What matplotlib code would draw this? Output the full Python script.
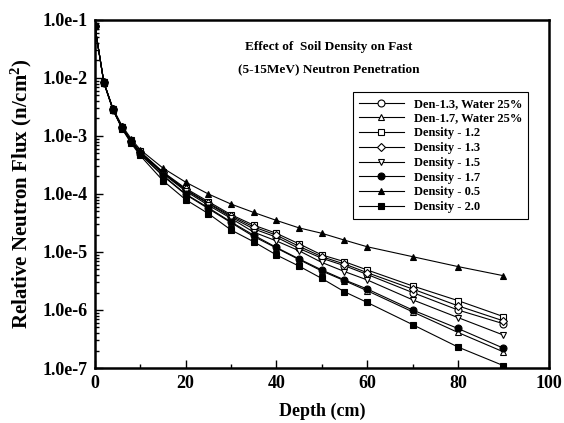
import numpy as np
import matplotlib
matplotlib.use("Agg")
import matplotlib.pyplot as plt
from matplotlib.ticker import LogLocator, FixedLocator, FuncFormatter, NullFormatter

plt.rcParams['font.family'] = 'Liberation Serif'
plt.rcParams['font.weight'] = 'bold'
plt.rcParams['mathtext.fontset'] = 'custom'
plt.rcParams['mathtext.bf'] = 'Liberation Serif:bold'
plt.rcParams['mathtext.rm'] = 'Liberation Serif:bold'
plt.rcParams['mathtext.default'] = 'bf'

depth = [0, 2, 4, 6, 8, 10, 15, 20, 25, 30, 35, 40, 45, 50, 55, 60, 70, 80, 90]

den13_w25 = [8.0e-2, 8.4e-3, 2.9e-3, 1.4e-3, 8.2e-4, 5.2e-4, 2.3e-4, 1.17e-4, 6.8e-5, 4.0e-5, 2.5e-5,
             1.8e-5, 1.15e-5, 7.8e-6, 5.8e-6, 4.1e-6, 2.0e-6, 1.0e-6, 5.8e-7]
den17_w25 = [8.0e-2, 8.3e-3, 2.85e-3, 1.36e-3, 7.8e-4, 4.85e-4, 2.05e-4, 9.8e-5, 5.6e-5, 3.2e-5, 1.85e-5,
             1.17e-5, 7.4e-6, 4.7e-6, 3.2e-6, 2.15e-6, 9.3e-7, 4.1e-7, 1.9e-7]
dens12 = [8.0e-2, 8.4e-3, 2.9e-3, 1.42e-3, 8.4e-4, 5.4e-4, 2.4e-4, 1.25e-4, 7.4e-5, 4.4e-5, 2.9e-5,
          2.1e-5, 1.38e-5, 8.9e-6, 6.8e-6, 4.9e-6, 2.6e-6, 1.45e-6, 7.7e-7]
dens13 = [8.0e-2, 8.4e-3, 2.9e-3, 1.4e-3, 8.3e-4, 5.3e-4, 2.35e-4, 1.2e-4, 7.0e-5, 4.2e-5, 2.7e-5,
          1.95e-5, 1.25e-5, 8.3e-6, 6.2e-6, 4.4e-6, 2.3e-6, 1.18e-6, 6.5e-7]
dens15 = [8.0e-2, 8.4e-3, 2.9e-3, 1.4e-3, 8.1e-4, 5.1e-4, 2.25e-4, 1.12e-4, 6.4e-5, 3.8e-5, 2.2e-5,
          1.55e-5, 1.05e-5, 6.6e-6, 4.6e-6, 3.3e-6, 1.5e-6, 7.4e-7, 3.7e-7]
dens17 = [8.0e-2, 8.3e-3, 2.85e-3, 1.37e-3, 7.9e-4, 4.9e-4, 2.1e-4, 1.0e-4, 5.8e-5, 3.3e-5, 1.95e-5,
          1.2e-5, 7.6e-6, 4.9e-6, 3.3e-6, 2.3e-6, 1.0e-6, 4.8e-7, 2.2e-7]
dens05 = [8.0e-2, 8.5e-3, 3.0e-3, 1.5e-3, 9.0e-4, 5.8e-4, 2.8e-4, 1.6e-4, 1.0e-4, 6.7e-5, 4.8e-5,
          3.5e-5, 2.6e-5, 2.1e-5, 1.6e-5, 1.23e-5, 8.3e-6, 5.6e-6, 3.9e-6]
dens20 = [8.0e-2, 8.3e-3, 2.8e-3, 1.33e-3, 7.5e-4, 4.6e-4, 1.7e-4, 8.0e-5, 4.6e-5, 2.4e-5, 1.5e-5,
          8.9e-6, 5.7e-6, 3.5e-6, 2.06e-6, 1.35e-6, 5.6e-7, 2.3e-7, 1.1e-7]

series = [
    ("Den-1.3, Water 25%", den13_w25, 'o', 'white'),
    ("Den-1.7, Water 25%", den17_w25, '^', 'white'),
    ("Density - 1.2", dens12, 's', 'white'),
    ("Density - 1.3", dens13, 'D', 'white'),
    ("Density - 1.5", dens15, 'v', 'white'),
    ("Density - 1.7", dens17, 'o', 'black'),
    ("Density - 0.5", dens05, '^', 'black'),
    ("Density - 2.0", dens20, 's', 'black'),
]

fig = plt.figure(figsize=(5.64, 4.23), dpi=100)
ax = fig.add_axes([0.168, 0.130, 0.805, 0.823])

for name, vals, m, fc in series:
    ms = 4 if m == 'D' else 5
    ax.plot(depth, vals, color='black', lw=0.8, marker=m, ms=ms,
            markerfacecolor=fc, markeredgecolor='black', markeredgewidth=0.8, label=name)

ax.set_yscale('log')
ax.set_xlim(0, 100)
ax.set_ylim(1e-7, 1e-1)
ax.xaxis.set_major_locator(FixedLocator([0, 20, 40, 60, 80, 100]))
ax.xaxis.set_minor_locator(FixedLocator([10, 30, 50, 70, 90]))
ax.yaxis.set_major_locator(LogLocator(base=10, numticks=10))
ax.yaxis.set_minor_locator(LogLocator(base=10, subs=np.arange(2, 10), numticks=20))
ax.yaxis.set_minor_formatter(NullFormatter())
ax.yaxis.set_major_formatter(FuncFormatter(lambda v, p: "1.0e%d" % round(np.log10(v))))

ax.tick_params(which='both', direction='in', top=False, right=False, width=1.0)
ax.tick_params(which='major', length=6, labelsize=13, pad=5)
ax.tick_params(which='minor', length=3)
for s in ax.spines.values():
    s.set_linewidth(1.8)

ax.set_xlabel('Depth (cm)', fontsize=13, fontweight='bold', labelpad=8)
ax.set_ylabel('Relative Neutron Flux (n/cm$^{2}$)', fontsize=15, fontweight='bold', labelpad=6)

# title lines inside the axes
ax.text(0.515, 0.922, 'Effect of  Soil Density on Fast', transform=ax.transAxes,
        ha='center', va='center', fontsize=9.5, fontweight='bold')
ax.text(0.515, 0.859, '(5-15MeV) Neutron Penetration', transform=ax.transAxes,
        ha='center', va='center', fontsize=9.5, fontweight='bold')

leg = ax.legend(loc='upper right', bbox_to_anchor=(0.967, 0.81), fontsize=9,
                handlelength=3.6, handletextpad=0.8, labelspacing=0.22,
                fancybox=False, edgecolor='black', framealpha=1, borderpad=0.45)
leg.get_frame().set_linewidth(0.8)

fig.savefig('out.png', dpi=100)
